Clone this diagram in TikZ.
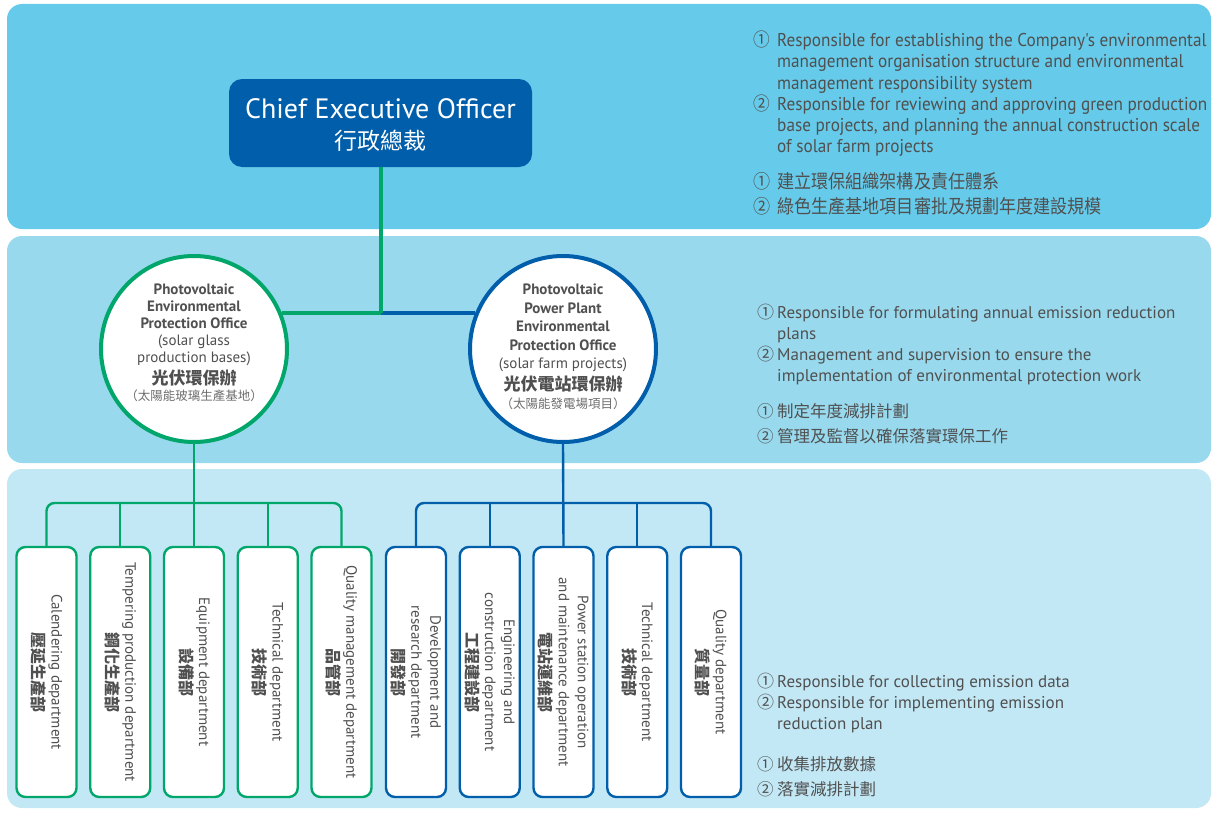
\documentclass[tikz,border=0pt]{standalone}
\usepackage{fontspec}
\setmainfont{PT Sans}
\newfontfamily\cjk{Noto Sans CJK TC}
\newfontfamily\cond{PT Sans}[FakeStretch=0.93]
\newfontfamily\cjkcond{Noto Sans CJK TC}[FakeStretch=0.9]
\definecolor{bandA}{RGB}{102,203,234}
\definecolor{bandB}{RGB}{152,217,238}
\definecolor{bandC}{RGB}{195,232,245}
\definecolor{pvgreen}{RGB}{0,166,106}
\definecolor{pvblue}{RGB}{0,94,170}
\definecolor{txt}{RGB}{80,80,80}
\definecolor{txtlight}{RGB}{110,110,110}
\newcommand{\cn}[1]{\makebox[20pt][l]{\cjk #1}}
\newcommand{\cnc}[1]{\makebox[24pt][l]{\cjkcond #1}}
\begin{document}
\begin{tikzpicture}[x=1pt,y=-1pt,
  band/.style={rounded corners=15pt},
  ceobox/.style={fill=pvblue, rounded corners=13pt, minimum width=303pt, minimum height=88pt, inner sep=0pt},
  office/.style={circle, draw, line width=4pt, fill=white, minimum size=186pt, inner sep=0pt},
  dept/.style={draw, line width=2.4pt, fill=white, rounded corners=9pt, rotate=-90,
    minimum width=250pt, minimum height=60pt, inner sep=0pt, align=center, text=txt,
    font=\fontsize{15}{19}\selectfont},
  thick link/.style={line width=4pt},
  branch/.style={line width=2.4pt, rounded corners=8pt},
  duty/.style={anchor=base west, align=left, text=txt, inner sep=0pt, font=\fontsize{17}{21.3}\selectfont}
]
\useasboundingbox (0,0) rectangle (1212,816);
\fill[white] (0,0) rectangle (1212,816);
% bands
\fill[band, bandA] (7,4) rectangle (1211,229);
\fill[band, bandB] (7,236) rectangle (1211,463);
\fill[band, bandC] (7,469) rectangle (1211,808);

% CEO
\node (ceo) [ceobox] at (380.5,123) {};
\node (ceot) [anchor=base, text=white, inner sep=0pt, font=\fontsize{28}{30}\selectfont] at (380.5,118) {Chief Executive Officer};
\node (ceoc) [anchor=base, text=white, inner sep=0pt, font=\cjk\fontsize{23}{25}\selectfont] at (380.5,149) {行政總裁};

% offices
\node (lc) [office, draw=pvgreen] at (194,349) {};
\node (rc) [office, draw=pvblue] at (563,349) {};

% multi-line nodes: base anchor = baseline of the last line
\node (lct) [anchor=base, align=center, text=txt, inner sep=0pt, font=\fontsize{15}{17}\selectfont] at (194,400)
 {\bfseries Photovoltaic\\ \bfseries Environmental\\ \bfseries Protection Office\\ (solar glass\\ production bases)\\[3pt]
  {\cjk\bfseries\fontsize{17}{19}\selectfont 光伏環保辦}\\[-1pt]
  {\cjk\fontsize{12.5}{17}\selectfont\color{txtlight}（太陽能玻璃生產基地）}};
\node (rct) [anchor=base, align=center, text=txt, inner sep=0pt, font=\fontsize{15}{18.5}\selectfont] at (563,408)
 {\bfseries Photovoltaic\\ \bfseries Power Plant\\ \bfseries Environmental\\ \bfseries Protection Office\\ (solar farm projects)\\[3pt]
  {\cjk\bfseries\fontsize{17}{19}\selectfont 光伏電站環保辦}\\[-0.5pt]
  {\cjk\fontsize{12.5}{17}\selectfont\color{txtlight}（太陽能發電場項目）}};

% CEO links
\draw[thick link, pvgreen] (ceo.south) |- (lc.22);
\draw[thick link, pvblue] (ceo.south |- rc.158) -- (rc.158);
\draw[thick link, pvgreen] (ceo.south) -- (ceo.south |- lc.22);

% green departments
\node (g1) [dept, draw=pvgreen] at (46.5,672) {Calendering department\\{\cjk\bfseries\fontsize{16}{19}\selectfont 壓延生產部}};
\node (g2) [dept, draw=pvgreen] at (120.25,672) {Tempering production department\\{\cjk\bfseries\fontsize{16}{19}\selectfont 鋼化生產部}};
\node (g3) [dept, draw=pvgreen] at (194,672) {Equipment department\\{\cjk\bfseries\fontsize{16}{19}\selectfont 設備部}};
\node (g4) [dept, draw=pvgreen] at (267.75,672) {Technical department\\{\cjk\bfseries\fontsize{16}{19}\selectfont 技術部}};
\node (g5) [dept, draw=pvgreen] at (341.5,672) {Quality management department\\{\cjk\bfseries\fontsize{16}{19}\selectfont 品管部}};

% blue departments
\node (b1) [dept, draw=pvblue] at (416,672) {Development and\\research department\\{\cjk\bfseries\fontsize{16}{19}\selectfont 開發部}};
\node (b2) [dept, draw=pvblue] at (489.75,672) {Engineering and\\construction department\\{\cjk\bfseries\fontsize{16}{19}\selectfont 工程建設部}};
\node (b3) [dept, draw=pvblue] at (563.5,672) {Power station operation\\and maintenance department\\{\cjk\bfseries\fontsize{16}{19}\selectfont 電站運維部}};
\node (b4) [dept, draw=pvblue] at (637.25,672) {Technical department\\{\cjk\bfseries\fontsize{16}{19}\selectfont 技術部}};
\node (b5) [dept, draw=pvblue] at (711,672) {Quality department\\{\cjk\bfseries\fontsize{16}{19}\selectfont 質量部}};

% branch connectors
\coordinate (gbar) at (194,503);
\coordinate (bbar) at (563.5,503);
\draw[branch, pvgreen] (g1.west) |- (gbar) -| (g5.west);
\draw[branch, pvgreen] (lc.south) -- (g3.west);
\draw[branch, pvgreen] (g2.west) -- (g2.west |- gbar);
\draw[branch, pvgreen] (g4.west) -- (g4.west |- gbar);
\draw[branch, pvblue] (b1.west) |- (bbar) -| (b5.west);
\draw[branch, pvblue] (rc.south) -- (b3.west);
\draw[branch, pvblue] (b2.west) -- (b2.west |- bbar);
\draw[branch, pvblue] (b4.west) -- (b4.west |- bbar);

% duties (positioned at the baseline of their last line)
\node (d1) [duty, font=\cond\fontsize{18.5}{21.1}\selectfont] at (753,213.5)
 {\cnc{①}Responsible for establishing the Company's environmental\\
  \hspace*{24pt}management organisation structure and environmental\\
  \hspace*{24pt}management responsibility system\\
  \cnc{②}Responsible for reviewing and approving green production\\
  \hspace*{24pt}base projects, and planning the annual construction scale\\
  \hspace*{24pt}of solar farm projects\\[15pt]
  {\cjkcond\fontsize{19}{21.1}\selectfont\cnc{①}建立環保組織架構及責任體系}\\[4pt]
  {\cjkcond\fontsize{19}{21.1}\selectfont\cnc{②}綠色生產基地項目審批及規劃年度建設規模}};
\node (d2) [duty] at (757,442.7)
 {\cn{①}Responsible for formulating annual emission reduction\\
  \hspace*{20pt}plans\\
  \cn{②}Management and supervision to ensure the\\
  \hspace*{20pt}implementation of environmental protection work\\[14.5pt]
  {\cjk\fontsize{16.5}{21.3}\selectfont\cn{①}制定年度減排計劃}\\[3.7pt]
  {\cjk\fontsize{16.5}{21.3}\selectfont\cn{②}管理及監督以確保落實環保工作}};
\node (d3) [duty] at (757,795.4)
 {\cn{①}Responsible for collecting emission data\\
  \cn{②}Responsible for implementing emission\\
  \hspace*{20pt}reduction plan\\[19.5pt]
  {\cjk\fontsize{16.5}{21.3}\selectfont\cn{①}收集排放數據}\\[3.7pt]
  {\cjk\fontsize{16.5}{21.3}\selectfont\cn{②}落實減排計劃}};
\end{tikzpicture}
\end{document}
